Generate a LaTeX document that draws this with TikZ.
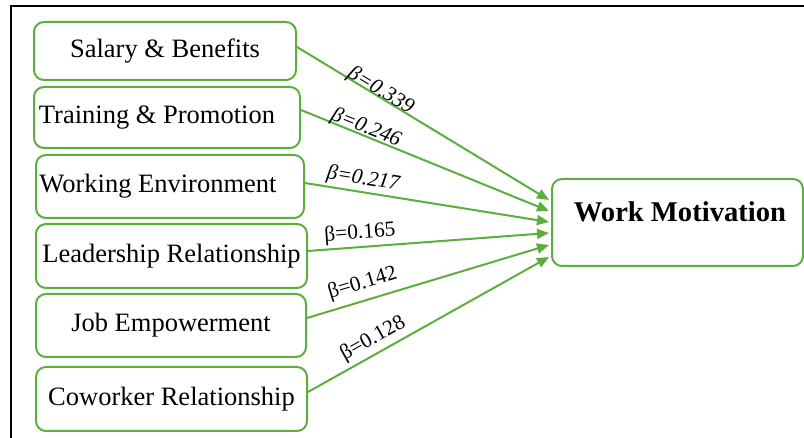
\documentclass[tikz,border=0pt]{standalone}
\usepackage{fontspec}
\setmainfont{Liberation Serif}
\usetikzlibrary{arrows.meta}
\definecolor{boxgreen}{RGB}{92,175,60}

\begin{document}
\begin{tikzpicture}[x=0.5pt,y=-0.5pt,
  factor/.style={draw=boxgreen, line width=1pt, rounded corners=5pt, inner sep=0pt,
    font=\fontsize{13.25}{15}\selectfont},
  coef/.style={sloped, inner sep=1pt, font=\fontsize{10.7}{12}\selectfont},
  link/.style={draw=boxgreen, line width=1pt, -{Triangle[length=6pt,width=5pt]}}]
\useasboundingbox (0,0) rectangle (804,438);
% frame
\draw[line width=1pt] (11,438) -- (11,6) -- (804,6);

% factors
\node[factor, minimum width=131pt, minimum height=29pt] (sal) at (165,51) {Salary \& Benefits};
\node[factor, minimum width=133pt, minimum height=30.5pt] (trn) at (167,117.5) {Training \& Promotion\hspace*{10pt}};
\node[factor, minimum width=134pt, minimum height=31.5pt] (env) at (170,186.5) {Working Environment\hspace*{12pt}};
\node[factor, minimum width=135.5pt, minimum height=32pt] (lead) at (171.5,256) {Leadership Relationship};
\node[factor, minimum width=135pt, minimum height=31.5pt] (job) at (171,325.5) {Job Empowerment};
\node[factor, minimum width=135.5pt, minimum height=32pt] (cow) at (171.5,399) {Coworker Relationship};

% outcome
\node[factor, minimum width=125.5pt, minimum height=43.5pt] (wm) at (677.5,222.5) {};
\node[font=\fontsize{14.3}{16}\selectfont\bfseries] (wmtext) at (680,212) {Work Motivation};

% paths
\draw[link] ([yshift=2pt]sal.east) -- node[coef, pos=0.32, above=-3.5pt] {\itshape β=0.339} ([xshift=-1pt,yshift=11.25pt]wm.west);
\draw[link] ([yshift=3.75pt]trn.east) -- node[coef, pos=0.25, above=-2.5pt] {\itshape β=0.246} ([xshift=-1pt,yshift=5.75pt]wm.west);
\draw[link] ([yshift=1.75pt]env.east) -- node[coef, pos=0.23, above=0pt] {\itshape β=0.217} ([xshift=-1pt,yshift=0.25pt]wm.west);
\draw[link] ([yshift=2.5pt]lead.east) -- node[coef, pos=0.22, above=0.5pt] {β=0.165} ([xshift=-1pt,yshift=-5.25pt]wm.west);
\draw[link] ([yshift=3.75pt]job.east) -- node[coef, pos=0.25, above=2pt] {β=0.142} ([xshift=-1pt,yshift=-11.25pt]wm.west);
\draw[link] ([yshift=3.5pt]cow.east) -- node[coef, pos=0.3, above=1pt] {β=0.128} ([xshift=-1pt,yshift=-17.25pt]wm.west);
\end{tikzpicture}
\end{document}
